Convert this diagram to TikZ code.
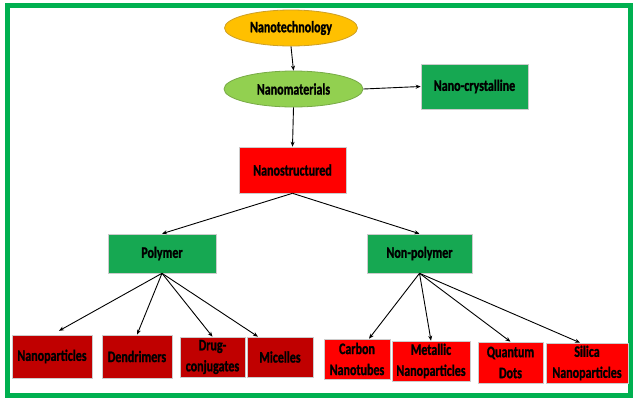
\documentclass[tikz,border=0pt]{standalone}
\usepackage{fontspec}
\setmainfont[FakeStretch=0.75, BoldFeatures={FakeBold=1.2}]{Carlito}
\usetikzlibrary{shapes.geometric,arrows.meta}
\definecolor{frmgreen}{RGB}{0,176,80}
\definecolor{boxgreen}{RGB}{22,168,82}
\definecolor{techfill}{RGB}{255,192,0}
\definecolor{techline}{RGB}{205,160,40}
\definecolor{matfill}{RGB}{146,208,80}
\definecolor{matline}{RGB}{120,170,70}
\definecolor{darkred}{RGB}{192,0,0}
\begin{document}
\begin{tikzpicture}[x=1pt,y=-1pt,
    lbl/.style={font=\fontsize{16}{21}\selectfont\bfseries, text=black, align=center, inner sep=0pt},
    ell/.style={lbl, ellipse, line width=0.8pt},
    box/.style={lbl, rectangle, draw=black!20, line width=0.6pt},
    arr/.style={-{Stealth[length=5pt,width=4pt]}, line width=0.9pt}]
  \useasboundingbox (0,0) rectangle (633,397);
  \draw[frmgreen, line width=5pt] (7.5,5.5) rectangle (630.5,395);
  % top of the tree
  \node[ell, fill=techfill, draw=techline, minimum width=133pt, minimum height=36pt] (tech) at (291,28) {Nanotechnology};
  \node[ell, fill=matfill, draw=matline, minimum width=139pt, minimum height=36pt] (mat) at (293.5,89) {Nanomaterials};
  \node[box, fill=boxgreen, minimum width=107pt, minimum height=45pt] (cryst) at (474.5,86.5) {Nano-crystalline};
  \node[box, fill=red, minimum width=107pt, minimum height=46pt] (struct) at (292.5,170) {Nanostructured};
  \node[box, fill=boxgreen, minimum width=108pt, minimum height=39pt] (poly) at (162,253.5) {Polymer};
  \node[box, fill=boxgreen, minimum width=105pt, minimum height=39pt] (nonpoly) at (419.5,253.5) {Non-polymer};
  % polymer leaves
  \node[box, fill=darkred, minimum width=80pt, minimum height=43pt] (npart) at (52,356.5) {Nanoparticles};
  \node[box, fill=darkred, minimum width=70pt, minimum height=43pt] (dend) at (137,356.5) {Dendrimers};
  \node[box, fill=darkred, minimum width=65pt, minimum height=40pt] (drug) at (212.5,357) {Drug-\\conjugates};
  \node[box, fill=darkred, minimum width=66pt, minimum height=40pt] (mic) at (280,357) {Micelles};
  % non-polymer leaves
  \node[box, fill=red, minimum width=66pt, minimum height=40pt] (carbon) at (357,359) {Carbon\\Nanotubes};
  \node[box, fill=red, minimum width=78pt, minimum height=40pt] (metal) at (431,361) {Metallic\\Nanoparticles};
  \node[box, fill=red, minimum width=65pt, minimum height=41pt] (quant) at (510.5,362.5) {Quantum\\Dots};
  \node[box, fill=red, minimum width=82pt, minimum height=40pt] (silica) at (587,363) {Silica\\Nanoparticles};
  % connectors
  \draw[arr] (tech.south) -- (mat.north);
  \draw[arr] (mat.east) -- (cryst.west);
  \draw[arr] (mat.south) -- (struct.north);
  \draw[arr] (struct.south) -- (poly.north);
  \draw[arr] (struct.south) -- (nonpoly.north);
  \draw[arr, shorten >=8pt] (poly.south) -- (npart.north);
  \draw[arr] (poly.south) -- (dend.north);
  \draw[arr] (poly.south) -- (drug.north);
  \draw[arr] (poly.south) -- ([xshift=-22pt]mic.north);
  \draw[arr] (nonpoly.south) -- ([xshift=12pt]carbon.north);
  \draw[arr] (nonpoly.south) -- (metal.north);
  \draw[arr] (nonpoly.south) -- (quant.north);
  \draw[arr] (nonpoly.south) -- ([xshift=-7pt]silica.north);
\end{tikzpicture}
\end{document}
